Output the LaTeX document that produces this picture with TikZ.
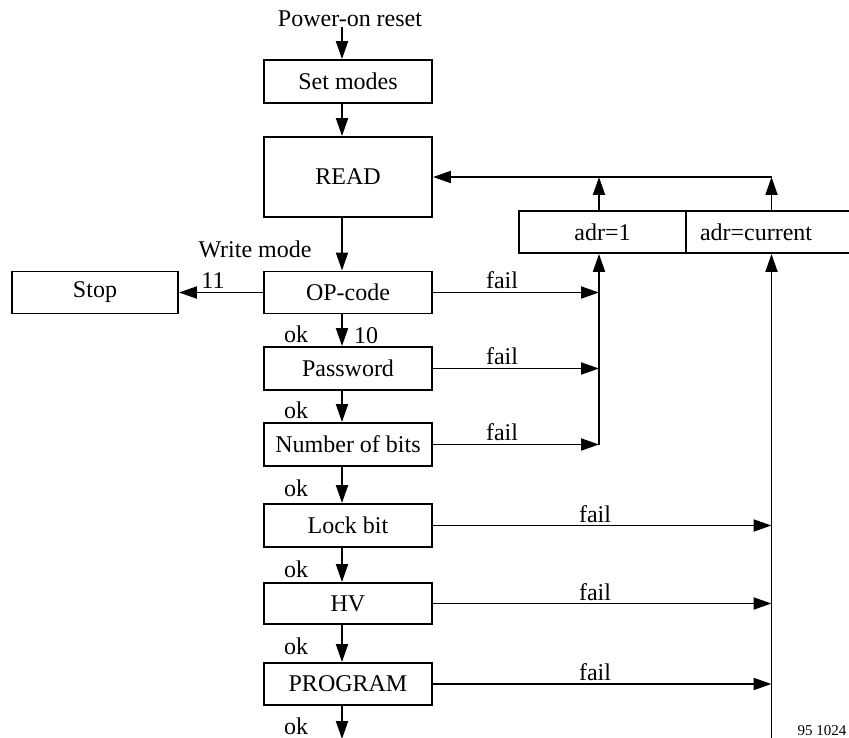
\documentclass[tikz,border=0pt]{standalone}
\usepackage{fontspec}
\setmainfont{Liberation Serif}
\usetikzlibrary{arrows.meta}
\tikzset{
  box/.style={draw, line width=1.9pt, rectangle, inner sep=0pt, minimum width=168pt, minimum height=43pt, font=\fontsize{24}{28}\selectfont},
  lbl/.style={inner sep=0pt, font=\fontsize{24}{28}\selectfont},
  small/.style={inner sep=0pt, font=\fontsize{15}{18}\selectfont},
  arr/.style={line width=1.9pt, -{Triangle[length=18pt,width=12pt]}},
  ln/.style={line width=1.9pt}
}
\begin{document}
\begin{tikzpicture}[x=1pt,y=-1pt]
\clip (0,0) rectangle (849,738);
\fill[white] (0,0) rectangle (849,738);
% column coordinates
\coordinate (ax) at (342,0);
\coordinate (bus1) at (599,0);
\coordinate (bus2) at (771.5,0);
\coordinate (top) at (0,177);
% nodes
\node[lbl] (pwr) at (350,19) {Power-on reset};
\node[box] (setm) at (348,81.5) {Set modes};
\node[box, minimum height=80pt] (read) at (348,177) {READ};
\node[box, minimum height=42pt] (op) at (348,292.5) {OP-code};
\node[box, minimum width=166pt, minimum height=42pt] (stop) at (95,292.5) {Stop};
\node[box] (pw) at (348,368.5) {Password};
\node[box] (nb) at (348,444.5) {Number of bits};
\node[box] (lb) at (348,525.5) {Lock bit};
\node[box, minimum height=41pt] (hv) at (348,603.5) {HV};
\node[box, minimum height=42pt] (prog) at (348,684) {PROGRAM};
\node[box, minimum width=167pt, minimum height=42pt] (adr1) at (602.5,232) {adr=1};
\node[box, minimum height=42pt, text width=156pt, inner xsep=14pt, align=left] (adrc) at (778,232) {adr=current};
\coordinate (bot) at (342,739);
\coordinate (bot2) at (771.5,745);
% labels
\node[lbl] (wm) at (255,249) {Write mode};
\node[lbl] (l11) at (213,281) {11};
\node[lbl] (l10) at (366,336) {10};
\node[lbl] (ok1) at (296,334) {ok};
\node[lbl] (ok2) at (296,410) {ok};
\node[lbl] (ok3) at (296,488) {ok};
\node[lbl] (ok4) at (296,569) {ok};
\node[lbl] (ok5) at (296,646) {ok};
\node[lbl] (ok6) at (296,726) {ok};
\node[lbl] (f1) at (502,280) {fail};
\node[lbl] (f2) at (502,356) {fail};
\node[lbl] (f3) at (502,432) {fail};
\node[lbl] (f4) at (595,514) {fail};
\node[lbl] (f5) at (595,592) {fail};
\node[lbl] (f6) at (595,672) {fail};
\node[small] (num) at (822,731) {95 1024};
% main flow
\draw[arr] (pwr.south -| ax) -- (setm.north -| ax);
\draw[arr] (setm.south -| ax) -- (read.north -| ax);
\draw[arr] (read.south -| ax) -- (op.north -| ax);
\draw[arr] (op.south -| ax) -- (pw.north -| ax);
\draw[arr] (pw.south -| ax) -- (nb.north -| ax);
\draw[arr] (nb.south -| ax) -- (lb.north -| ax);
\draw[arr] (lb.south -| ax) -- (hv.north -| ax);
\draw[arr] (hv.south -| ax) -- (prog.north -| ax);
\draw[arr] (prog.south -| ax) -- (bot);
\draw[arr] (op.west) -- (stop.east);
% fail to bus 1
\draw[arr] (op.east) -- (op.east -| bus1);
\draw[arr] (pw.east) -- (pw.east -| bus1);
\draw[arr] (nb.east) -- (nb.east -| bus1);
\draw[arr] (nb.east -| bus1) -- (adr1.south -| bus1);
% fail to bus 2
\draw[arr] (lb.east) -- (lb.east -| bus2);
\draw[arr] (hv.east) -- (hv.east -| bus2);
\draw[arr] (prog.east) -- (prog.east -| bus2);
\draw[arr] (bot2) -- (adrc.south -| bus2);
% return to READ
\draw[arr] (adr1.north -| bus1) -- (top -| bus1);
\draw[arr] (adrc.north -| bus2) -- (top -| bus2);
\draw[arr] (top -| bus2) -- (read.east);
\end{tikzpicture}
\end{document}
